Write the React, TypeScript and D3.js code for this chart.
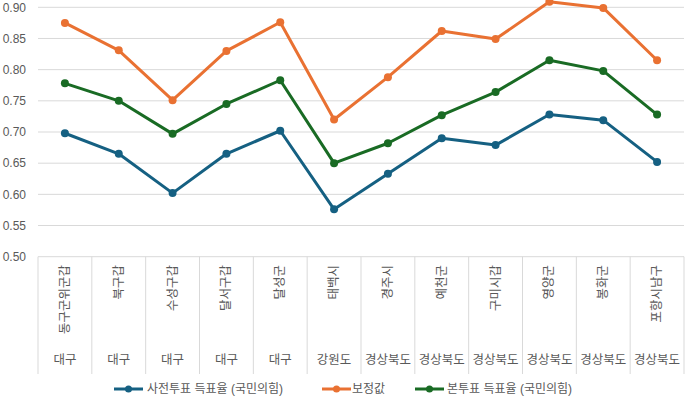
import React from "react";
import * as d3 from "d3";

const districts = ["동구군위군갑", "북구갑", "수성구갑", "달서구갑", "달성군", "태백시", "경주시", "예천군", "구미시갑", "영양군", "봉화군", "포항시남구"];
const regions = ["대구", "대구", "대구", "대구", "대구", "강원도", "경상북도", "경상북도", "경상북도", "경상북도", "경상북도", "경상북도"];
const earlyVote = [0.698, 0.665, 0.602, 0.665, 0.702, 0.576, 0.633, 0.690, 0.679, 0.728, 0.719, 0.652];
const corrected = [0.875, 0.831, 0.751, 0.830, 0.876, 0.720, 0.788, 0.862, 0.849, 0.909, 0.899, 0.815];
const mainVote = [0.778, 0.750, 0.697, 0.745, 0.783, 0.650, 0.682, 0.727, 0.764, 0.815, 0.798, 0.728];
const yTicks = [0.5, 0.55, 0.6, 0.65, 0.7, 0.75, 0.8, 0.85, 0.9];
const seriesNames = ["사전투표 득표율 (국민의힘)", "보정값", "본투표 득표율 (국민의힘)"];

const COLORS = ["#156082", "#E97132", "#196B24"];
const FONT = "'Liberation Sans', 'Noto Sans CJK KR', sans-serif";

export default function App() {
  const W = 687, H = 402;
  const x0 = 38, x1 = 684;
  const y = d3.scaleLinear().domain([0.5, 0.9]).range([256.7, 7.3]);
  const band = d3.scaleBand<string>().domain(districts.map((_, i) => String(i))).range([x0, x1]).padding(0);
  const cx = (i: number) => (band(String(i)) as number) + band.bandwidth() / 2;
  const line = d3.line<number>().x((_, i) => cx(i)).y((v) => y(v));
  const series = [earlyVote, corrected, mainVote];
  const gridColor = "#d9d9d9";
  const textColor = "#595959";

  const legendItems = [
    { lx: 114, tx: 147 },
    { lx: 322, tx: 352 },
    { lx: 415, tx: 447 },
  ];
  const legendY = 389;

  return (
    <svg width={W} height={H} style={{ position: "absolute", left: 0, top: 0, background: "#fff" }} fontFamily={FONT}>
      {yTicks.map((t) => (
        <g key={t}>
          <line x1={x0} x2={x1} y1={y(t)} y2={y(t)} stroke={gridColor} strokeWidth={1} />
          <text x={26} y={y(t)} dy="0.35em" textAnchor="end" fontSize={12} fill={textColor}>
            {d3.format(".2f")(t)}
          </text>
        </g>
      ))}
      {d3.range(districts.length + 1).map((i) => {
        const xx = x0 + i * band.bandwidth();
        return <line key={"d" + i} x1={xx} x2={xx} y1={y(0.5)} y2={374} stroke={gridColor} strokeWidth={1} />;
      })}
      {districts.map((d, i) => (
        <text
          key={"c" + i}
          transform={`translate(${cx(i)},265) rotate(-90)`}
          textAnchor="end"
          dominantBaseline="central"
          fontSize={12.5}
          fill={textColor}
        >
          {d}
        </text>
      ))}
      {regions.map((r, i) => (
        <text key={"r" + i} x={cx(i)} y={360} dy="0.35em" textAnchor="middle" fontSize={12.5} fill={textColor}>
          {r}
        </text>
      ))}
      {series.map((s, k) => (
        <g key={"s" + k}>
          <path d={line(s) || ""} fill="none" stroke={COLORS[k]} strokeWidth={3} strokeLinejoin="round" />
          {s.map((v, i) => (
            <circle key={i} cx={cx(i)} cy={y(v)} r={4} fill={COLORS[k]} />
          ))}
        </g>
      ))}
      {legendItems.map((it, k) => (
        <g key={"l" + k}>
          <line x1={it.lx} x2={it.lx + 29} y1={legendY} y2={legendY} stroke={COLORS[k]} strokeWidth={3} />
          <circle cx={it.lx + 14.5} cy={legendY} r={3.5} fill={COLORS[k]} />
          <text x={it.tx} y={legendY} dy="0.35em" fontSize={12} fill={textColor}>
            {seriesNames[k]}
          </text>
        </g>
      ))}
    </svg>
  );
}
